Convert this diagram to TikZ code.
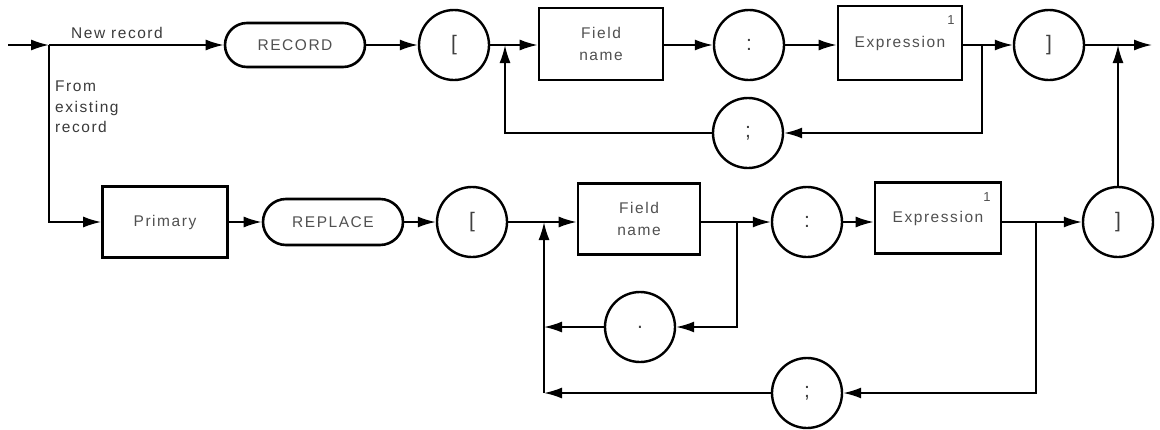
\documentclass[tikz,border=0pt]{standalone}
\usepackage{fontspec}
\setmainfont[LetterSpace=10]{Liberation Sans}
\usetikzlibrary{arrows.meta,shapes.misc}
\definecolor{txt}{HTML}{505050}
\definecolor{lbl}{HTML}{3a3a3a}
\tikzset{
  every node/.style={font=\fontsize{15.5}{22}\selectfont, text=txt},
  boxn/.style={draw=black, rectangle, line width=2.6pt, minimum width=124pt, minimum height=72pt, align=center, inner sep=0pt},
  pill/.style={draw=black, rounded rectangle, line width=2.6pt, minimum width=140pt, minimum height=44pt, inner sep=0pt},
  circn/.style={draw=black, circle, line width=2.4pt, minimum size=70pt, inner sep=0pt, font=\fontsize{21}{22}\selectfont, text=black!75},
  ln/.style={line width=1.8pt, draw=black},
  conn/.style={ln, -{Latex[length=18pt,width=11pt]}},
  sup/.style={font=\fontsize{13}{13}\selectfont, text=txt},
  lab/.style={text=lbl, align=left, inner sep=0pt, anchor=west}
}
\begin{document}
\begin{tikzpicture}[x=1pt,y=-1pt]
\useasboundingbox (0,0) rectangle (1160,429);
% top row
\coordinate (start) at (8,45);
\coordinate (j0) at (49,45);
\node[pill] (record) at (295,45) {RECORD};
\node[circn] (lb1) at (454,45) {[};
\coordinate (j1) at (505,45);
\coordinate (j1b) at (505,85);
\node[boxn] (fn1) at (601,44) {Field\\name};
\node[circn] (c1) at (749,45) {:};
\node[boxn, minimum height=74pt] (ex1) at (900,43) {\raisebox{-8pt}{Expression}};
\node[sup] (s1) at (951,20) {1};
\coordinate (j2) at (982,45);
\node[circn] (rb1) at (1049,45) {]};
\coordinate (j3) at (1118,45);
\coordinate (end) at (1152,45);
\node[circn] (sc1) at (748,133) {;};
% labels
\node[lab] (nr) at (71,33) {New record};
\node[lab, font=\fontsize{15.5}{20.5}\selectfont] (fe) at (55,107) {From\\existing\\record};
% bottom row
\node[boxn, minimum width=125pt, minimum height=71pt] (prim) at (165,222) {Primary};
\node[pill, minimum height=46pt] (repl) at (333,222) {REPLACE};
\node[circn] (lb2) at (472,222) {[};
\coordinate (j4) at (544,222);
\node[boxn, minimum width=122pt, minimum height=71pt] (fn2) at (639,219) {Field\\name};
\coordinate (j5) at (737,222);
\node[circn] (c2) at (807,222) {:};
\node[boxn, minimum width=126pt, minimum height=71pt] (ex2) at (938,218) {\raisebox{-8pt}{Expression}};
\node[sup] (s2) at (987,197) {1};
\coordinate (j6) at (1036,222);
\node[circn] (rb2) at (1118,222) {]};
\node[circn] (dot) at (640,327) {.};
\node[circn] (sc2) at (807,393) {;};
\coordinate (k1) at (j4 |- dot);
\coordinate (k2) at (j4 |- sc2);
% top connectors
\draw[conn] (start) -- (j0);
\draw[conn] (j0) -- (record.west);
\draw[conn] (record.east) -- (lb1.west);
\draw[ln] (lb1.east) -- (j1);
\draw[conn] (j1) -- (fn1.west |- j1);
\draw[conn] (fn1.east |- j1) -- (c1.west);
\draw[conn] (c1.east) -- (ex1.west |- c1);
\draw[ln] (ex1.east |- j2) -- (j2);
\draw[conn] (j2) -- (rb1.west);
\draw[conn] (rb1.east) -- (end);
\draw[conn] (j2) |- (sc1.east);
\draw[ln] (sc1.west) -| (j1b);
\draw[conn] (j1b) -- (j1);
% branch
\draw[conn] (j0) |- (prim.west |- j4);
% bottom connectors
\draw[conn] (prim.east |- repl) -- (repl.west);
\draw[conn] (repl.east) -- (lb2.west);
\draw[ln] (lb2.east) -- (j4);
\draw[conn] (j4) -- (fn2.west |- j4);
\draw[ln] (fn2.east |- j5) -- (j5);
\draw[conn] (j5) -- (c2.west);
\draw[conn] (c2.east) -- (ex2.west |- c2);
\draw[ln] (ex2.east |- j6) -- (j6);
\draw[conn] (j6) -- (rb2.west);
\draw[conn] (rb2.north) -- (j3);
\draw[conn] (j5) |- (dot.east);
\draw[conn] (dot.west) -- (k1);
\draw[conn] (j6) |- (sc2.east);
\draw[conn] (sc2.west) -- (k2);
\draw[conn] (k2) -- (j4);
\end{tikzpicture}
\end{document}
